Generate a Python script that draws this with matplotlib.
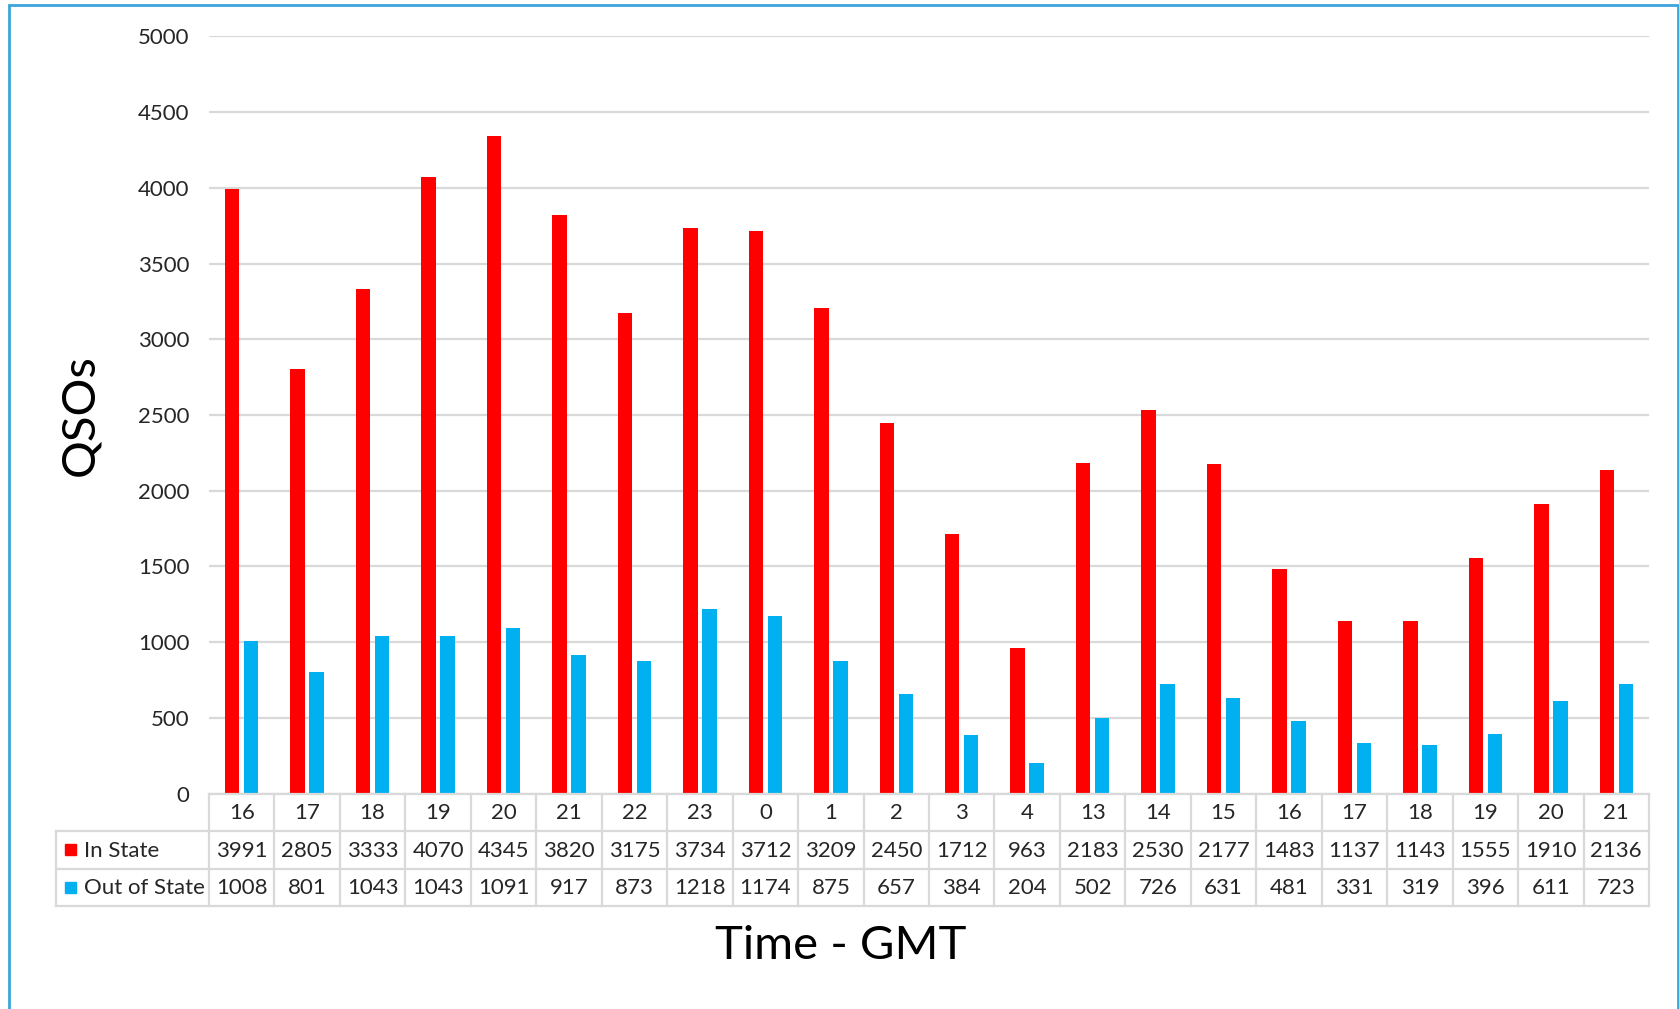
import matplotlib.pyplot as plt
from matplotlib.patches import Rectangle

hours = ['16', '17', '18', '19', '20', '21', '22', '23', '0', '1', '2', '3', '4',
         '13', '14', '15', '16', '17', '18', '19', '20', '21']
in_state = [3991, 2805, 3333, 4070, 4345, 3820, 3175, 3734, 3712, 3209, 2450, 1712,
            963, 2183, 2530, 2177, 1483, 1137, 1143, 1555, 1910, 2136]
out_state = [1008, 801, 1043, 1043, 1091, 917, 873, 1218, 1174, 875, 657, 384,
             204, 502, 726, 631, 481, 331, 319, 396, 611, 723]
series = [('In State', in_state, '#FF0000'), ('Out of State', out_state, '#00B0F0')]

W, H = 1679, 1009
plt.rcParams['font.family'] = ['Lato', 'DejaVu Sans']
fig = plt.figure(figsize=(W / 100, H / 100), dpi=100)

# pixel positions of plot/table
x0, x1 = 209, 1649
y_top, y_zero, y_tab = 36.4, 793.6, 906
leg_left = 56
n = len(hours)
col_w = (x1 - x0) / n
row_h = (y_tab - y_zero) / 3
grid_c = '#D9D9D9'
txt_c = '#262626'
fs = 16

ax = fig.add_axes([x0 / W, 1 - y_zero / H, (x1 - x0) / W, (y_zero - y_top) / H])
xs = list(range(n))
bw, off = 0.22, 0.145
ax.bar([x - off for x in xs], in_state, bw, color='#FF0000', zorder=3)
ax.bar([x + off for x in xs], out_state, bw, color='#00B0F0', zorder=3)
ax.set_xlim(-0.5, n - 0.5)
ax.set_ylim(0, 5000)
ax.set_yticks(range(0, 5001, 500))
ax.tick_params(axis='y', length=0, labelsize=fs, pad=14, labelcolor=txt_c)
ax.set_xticks([])
ax.yaxis.grid(True, color=grid_c, lw=1.6, zorder=0)
for s in ax.spines.values():
    s.set_visible(False)

# data table under the chart
tx0 = -0.5 - (x0 - leg_left) / col_w
tab = fig.add_axes([leg_left / W, 1 - y_tab / H, (x1 - leg_left) / W, (y_tab - y_zero) / H])
tab.set_xlim(tx0, n - 0.5)
tab.set_ylim(3, 0)
tab.axis('off')
lk = dict(color=grid_c, lw=1.6, clip_on=False)
tab.plot([-0.5, n - 0.5], [0, 0], **lk)
for r in (1, 2, 3):
    tab.plot([tx0, n - 0.5], [r, r], **lk)
tab.plot([tx0, tx0], [1, 3], **lk)
for k in range(n + 1):
    tab.plot([k - 0.5, k - 0.5], [0, 3], **lk)
tk = dict(ha='center', va='center', fontsize=fs, color=txt_c)
for i, h in enumerate(hours):
    tab.text(i, 0.52, h, **tk)
    tab.text(i, 1.52, str(in_state[i]), **tk)
    tab.text(i, 2.52, str(out_state[i]), **tk)
for r, (name, vals, c) in enumerate(series, start=1):
    mw, mh = 11 / col_w, 11 / row_h
    tab.add_patch(Rectangle((tx0 + 9 / col_w, r + 0.5 - mh / 2), mw, mh, color=c, clip_on=False))
    tab.text(tx0 + 28 / col_w, r + 0.52, name, ha='left', va='center', fontsize=fs, color=txt_c)

fig.text(80 / W, 1 - 415 / H, 'QSOs', rotation=90, ha='center', va='center', fontsize=34)
fig.text(841 / W, 1 - 946 / H, 'Time - GMT', ha='center', va='center', fontsize=34)

# blue frame
fig.patches.append(Rectangle((9 / W, -0.05), (W - 10) / W, 1.05 - 5 / H, transform=fig.transFigure,
                             fill=False, edgecolor='#3BA5DC', lw=2))

fig.savefig('out.png', dpi=100)
